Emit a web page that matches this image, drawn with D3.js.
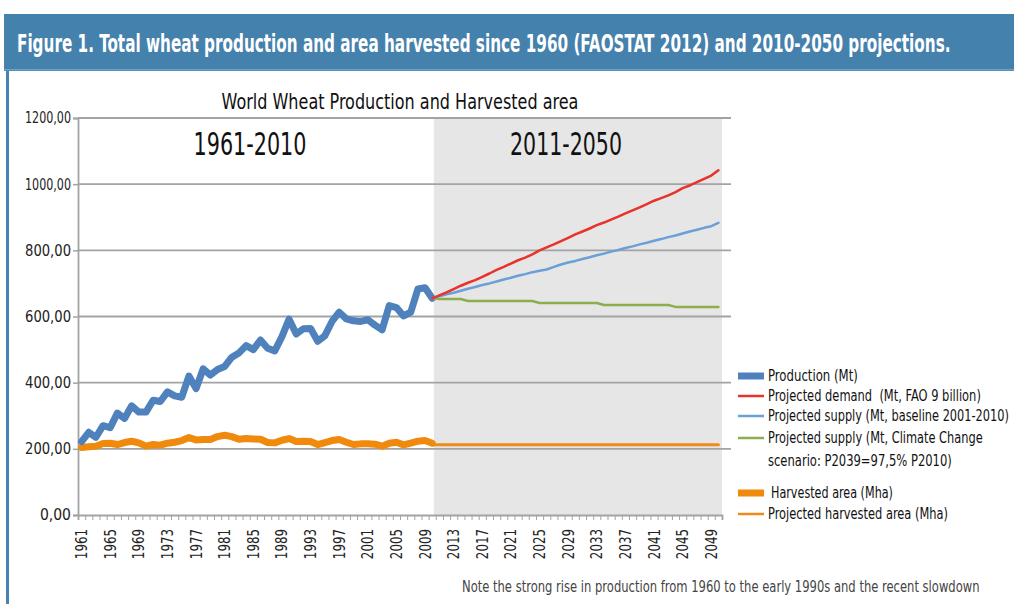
<!DOCTYPE html>
<html>
<head>
<meta charset="utf-8">
<script src="https://d3js.org/d3.v7.min.js"></script>
<title>World Wheat Production and Harvested area</title>
<style>
  body {margin: 0; background: #fff;
        font-family: "Liberation Sans Narrow", "DejaVu Sans Condensed", "Open Sans", sans-serif;}
  svg {display: block;}
  text {white-space: pre;}
</style>
</head>
<body>
<div id="chart"></div>
<script>
// categories
const years = d3.range(1961, 2051);
const histYears = d3.range(1961, 2011);
const projYears = d3.range(2010, 2051);

// world wheat production 1961-2010 (Mt)
const production = [222, 250, 235, 270, 264, 308, 292, 330, 311, 311,
                    347, 343, 372, 360, 356, 420, 382, 442, 423, 440,
                    449, 477, 490, 512, 500, 529, 504, 496, 539, 592,
                    547, 563, 564, 525, 542, 585, 613, 593, 587, 585,
                    590, 574, 560, 633, 627, 602, 613, 683, 687, 655];

// harvested area 1961-2010 (Mha)
const harvested = [204, 206, 208, 216, 217, 213, 219, 223, 218, 208,
                   213, 211, 217, 220, 225, 234, 227, 228, 228, 237,
                   241, 237, 229, 231, 230, 229, 219, 218, 226, 231,
                   222, 223, 222, 213, 219, 225, 228, 220, 213, 215,
                   215, 214, 208, 217, 220, 212, 217, 223, 225, 217];

// projections 2010-2050
const demand = [655, 664, 673, 683, 693, 702, 710, 720, 730, 741,
                750, 760, 770, 778, 788, 800, 809, 818, 828, 838,
                848, 857, 866, 876, 884, 893, 902, 912, 921, 930,
                940, 950, 958, 966, 976, 988, 996, 1006, 1016, 1026,
                1042];
const supplyBase = [655, 661, 667, 672, 678, 684, 689, 695, 700, 706,
                    712, 717, 723, 728, 734, 738, 742, 750, 757, 763,
                    768, 774, 779, 785, 790, 796, 801, 807, 812, 818,
                    823, 829, 834, 840, 845, 851, 857, 862, 868, 873,
                    883];
const supplyCC = [655, 653, 653, 653, 653, 647, 647, 647, 647, 647,
                  647, 647, 647, 647, 647, 641, 641, 641, 641, 641,
                  641, 641, 641, 641, 635, 635, 635, 635, 635, 635,
                  635, 635, 635, 635, 629, 629, 629, 629, 629, 629,
                  629];
const projHarvested = [212, 212, 212, 212, 212, 212, 212, 212, 212, 212,
                       212, 212, 212, 212, 212, 212, 212, 212, 212, 212,
                       212, 212, 212, 212, 212, 212, 212, 212, 212, 212,
                       212, 212, 212, 212, 212, 212, 212, 212, 212, 212,
                       212];

const yTicks = [0, 200, 400, 600, 800, 1000, 1200];
const xLabels = d3.range(1961, 2051, 4);

const legendItems = [
  {label: ["Production (Mt)"], color: "#4f81bd", thick: true},
  {label: ["Projected demand  (Mt, FAO 9 billion)"], color: "#e8322a"},
  {label: ["Projected supply (Mt, baseline 2001-2010)"], color: "#6a9fd8"},
  {label: ["Projected supply (Mt, Climate Change", "scenario: P2039=97,5% P2010)"], color: "#8dae4e"},
  {label: ["Harvested area (Mha)"], color: "#ef8a0c", thick: true},
  {label: ["Projected harvested area (Mha)"], color: "#f08a18"}
];
const legendY = [376, 396, 416, 438, 493, 514];
const legendW = [[90], [213], [241], [215, 184], [122], [180]];

const W = 1014, H = 604;
const svg = d3.select("#chart").append("svg")
              .attr("width", W).attr("height", H);

// squeeze a text horizontally to a given width (condensed look)
function fit(t, w) {
  const len = t.node().getComputedTextLength();
  const s = Math.min(1, w / len);
  const x0 = +t.attr("x");
  t.attr("transform", `translate(${x0 * (1 - s)},0) scale(${s},1)`);
  return t;
}

/* frame and banner */
svg.append("rect").attr("x", 6).attr("y", 70).attr("width", 3).attr("height", H - 70)
   .attr("fill", "#4682b4");
svg.append("rect").attr("x", 4).attr("y", 14).attr("width", W - 4).attr("height", 57)
   .attr("fill", "#4581ad");
svg.append("rect").attr("x", 4).attr("y", 69).attr("width", W - 4).attr("height", 1.5)
   .attr("fill", "#6f9fc4");
fit(svg.append("text").attr("x", 17).attr("y", 52)
   .attr("fill", "#fff").attr("font-weight", "bold").attr("font-size", 24)
   .text("Figure 1. Total wheat production and area harvested since 1960 (FAOSTAT 2012) and 2010-2050 projections."), 934);

/* scales */
const x = d3.scaleBand().domain(years).range([78, 722]);
const y = d3.scaleLinear().domain([0, 1200]).range([515, 118]);
const cx = d => x(d) + x.bandwidth() / 2;

/* projection background */
svg.append("rect")
   .attr("x", x(2011) - 2).attr("y", y(1200))
   .attr("width", 722 - x(2011) + 2).attr("height", y(0) - y(1200))
   .attr("fill", "#e6e6e6");

/* gridlines */
svg.append("g").selectAll("line").data(yTicks.filter(d => d > 0)).join("line")
   .attr("x1", 78).attr("x2", 731)
   .attr("y1", d => y(d)).attr("y2", d => y(d))
   .attr("stroke", "#a3a3a3").attr("stroke-width", 1.8);

/* y axis */
const yAxis = svg.append("g").attr("transform", "translate(78,0)")
   .call(d3.axisLeft(y).tickValues(yTicks).tickSize(5).tickPadding(6)
           .tickFormat(d => d.toFixed(2).replace(".", ",")));
yAxis.select(".domain").attr("stroke", "#a3a3a3").attr("stroke-width", 1.8);
yAxis.selectAll(".tick line").attr("stroke", "#a3a3a3").attr("stroke-width", 1.5);
yAxis.selectAll("text").attr("font-size", 15.5).attr("fill", "#222")
     .attr("font-family", "Liberation Sans Narrow, DejaVu Sans Condensed, sans-serif")
     .each(function () { const t = d3.select(this); t.attr("x", -7); fit(t, 46); });

/* x axis: ticks between categories */
const xb = d3.scaleLinear().domain([0, years.length]).range([78, 722]);
const xAxis = svg.append("g").attr("transform", `translate(0,${y(0)})`)
   .call(d3.axisBottom(xb).tickValues(d3.range(years.length + 1)).tickSize(5).tickFormat(""));
xAxis.select(".domain").attr("stroke", "#a3a3a3").attr("stroke-width", 1.8);
xAxis.selectAll(".tick line").attr("stroke", "#a3a3a3").attr("stroke-width", 1);

svg.append("g").selectAll("text").data(xLabels).join("text")
   .attr("transform", d => `translate(${cx(d) + 5.5},529) rotate(-90) scale(0.85,1)`)
   .attr("text-anchor", "end")
   .attr("font-size", 15.5).attr("fill", "#222")
   .text(d => d);

/* lines */
const line = d3.line().x(d => cx(d[0])).y(d => y(d[1]));
const addLine = (yrs, vals, color, width) =>
  svg.append("path").datum(yrs.map((yr, i) => [yr, vals[i]]))
     .attr("d", line).attr("fill", "none")
     .attr("stroke", color).attr("stroke-width", width)
     .attr("stroke-linejoin", "round").attr("stroke-linecap", "round");

addLine(projYears, projHarvested, "#f08a18", 3);
addLine(histYears, harvested, "#ef8a0c", 7);
addLine(histYears, production, "#4f81bd", 7);
addLine(projYears, supplyCC, "#8dae4e", 2.5);
addLine(projYears, supplyBase, "#6a9fd8", 2.5);
addLine(projYears, demand, "#e8322a", 2.5);

/* titles */
fit(svg.append("text").attr("x", 400).attr("y", 109).attr("text-anchor", "middle")
   .attr("font-size", 21).attr("fill", "#111")
   .text("World Wheat Production and Harvested area"), 357);
fit(svg.append("text").attr("x", 250).attr("y", 155).attr("text-anchor", "middle")
   .attr("font-size", 32).attr("fill", "#111")
   .text("1961-2010"), 113);
fit(svg.append("text").attr("x", 566).attr("y", 155).attr("text-anchor", "middle")
   .attr("font-size", 32).attr("fill", "#111")
   .text("2011-2050"), 112);

/* legend */
const leg = svg.append("g");
legendItems.forEach((d, i) => {
  const ly = legendY[i];
  if (d.thick) {
    leg.append("rect").attr("x", 738).attr("y", ly - 3.5).attr("width", 26).attr("height", 7)
       .attr("fill", d.color);
  } else {
    leg.append("line").attr("x1", 738).attr("x2", 764).attr("y1", ly).attr("y2", ly)
       .attr("stroke", d.color).attr("stroke-width", 2.5);
  }
  d.label.forEach((t, j) => {
    fit(leg.append("text").attr("x", i === 4 ? 771 : 768).attr("y", ly + 5.5 + j * 23)
       .attr("font-size", 16).attr("fill", "#111")
       .text(t), legendW[i][j]);
  });
});

/* note */
fit(svg.append("text").attr("x", 462).attr("y", 592)
   .attr("font-size", 16).attr("fill", "#444")
   .text("Note the strong rise in production from 1960 to the early 1990s and the recent slowdown"), 518);
</script>
</body>
</html>
